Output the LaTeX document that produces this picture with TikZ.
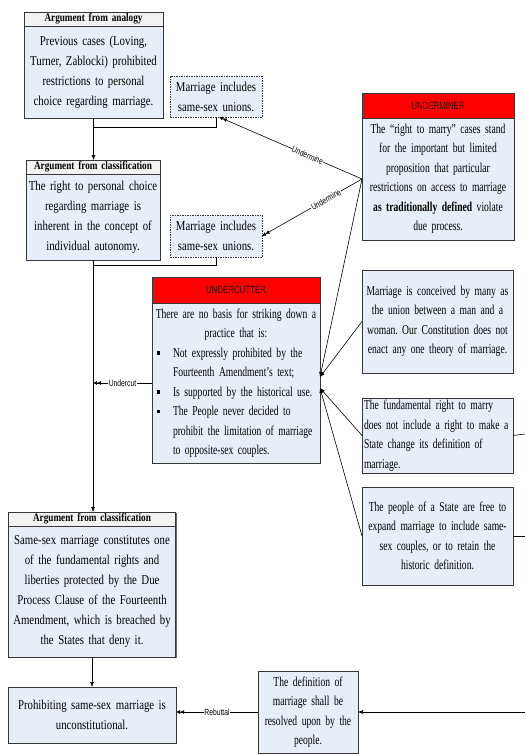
\documentclass[tikz,border=0pt]{standalone}
\usepackage{fontspec}
\setmainfont[FakeStretch=0.8]{Liberation Serif}
\newfontfamily\narrowserif[FakeStretch=0.71]{Liberation Serif}
\setsansfont[FakeStretch=0.75]{Liberation Sans}
\usetikzlibrary{arrows.meta,shadows}
\frenchspacing
\definecolor{boxfill}{RGB}{232,238,248}
\definecolor{hdrfill}{RGB}{242,242,242}
\definecolor{boxline}{RGB}{55,55,55}
\definecolor{redhdr}{RGB}{255,0,0}
\definecolor{redtext}{RGB}{40,0,0}
\newcommand{\bul}{\makebox[19pt][l]{\hspace{3pt}\rule[2.5pt]{3pt}{3.5pt}}}
\newcommand{\ind}{\hspace*{19pt}}
\begin{document}
\begin{tikzpicture}[x=1pt,y=-1pt,line width=0.6pt,
  every node/.style={inner sep=2pt,outer sep=0pt},
  flatbox/.style={draw=boxline,fill=boxfill,font=\fontsize{13.5}{20}\selectfont,align=center,anchor=north},
  box/.style={flatbox,drop shadow={shadow xshift=1.2pt,shadow yshift=-1.2pt,fill=black!60,opacity=1}},
  nbox/.style={box,font=\narrowserif\fontsize{13.5}{19.5}\selectfont},
  hdr/.style={box,fill=hdrfill,inner ysep=0pt,font=\bfseries\fontsize{11.5}{12}\selectfont},
  redhdr/.style={box,fill=redhdr,text=redtext,font=\sffamily\fontsize{10.5}{12}\selectfont},
  claim/.style={flatbox,dash pattern=on 1.5pt off 1pt},
  lbl/.style={fill=white,inner sep=0.5pt,font=\sffamily\fontsize{9}{10}\selectfont},
  tip/.style={-{Latex[length=5pt,width=4pt]}},
  dtip/.style={-{Latex[length=4pt,width=4pt]Latex[length=4pt,width=4pt]}}]
\useasboundingbox (0,0) rectangle (525,755);
% left column
\node[hdr,minimum width=139pt,minimum height=14pt,text width=135pt] (anHdr) at (93.5,12) {Argument from analogy};
\node[box,minimum width=139pt,minimum height=92pt,text width=135pt] (anBody) at (anHdr.south) {Previous cases (Loving,\\ Turner, Zablocki) prohibited\\ restrictions to personal\\ choice regarding marriage.};
\node[claim,minimum width=92pt,minimum height=41pt,text width=88pt] (claimA) at (216,76) {Marriage includes\\ same-sex unions.};
\node[hdr,minimum width=134pt,minimum height=14pt,text width=130pt] (clHdr) at (93,160) {Argument from classification};
\node[box,minimum width=134pt,minimum height=86pt,text width=130pt] (clBody) at (clHdr.south) {The right to personal choice\\ regarding marriage is\\ inherent in the concept of\\ individual autonomy.};
\node[claim,minimum width=92pt,minimum height=42pt,text width=88pt] (claimB) at (216,215) {Marriage includes\\ same-sex unions.};
\node[hdr,minimum width=167pt,minimum height=14pt,text width=163pt] (cl2Hdr) at (92,512) {Argument from classification};
\node[box,minimum width=167pt,minimum height=131pt,text width=163pt] (cl2Body) at (cl2Hdr.south) {Same-sex marriage constitutes one\\ of the fundamental rights and\\ liberties protected by the Due\\ Process Clause of the Fourteenth\\ Amendment, which is breached by\\ the States that deny it.};
\node[box,minimum width=168pt,minimum height=56pt,text width=164pt] (concl) at (92,687) {Prohibiting same-sex marriage is\\ unconstitutional.};
\node[nbox,minimum width=100pt,minimum height=82pt,text width=96pt] (defPeople) at (308,671) {The definition of\\ marriage shall be\\ resolved upon by the\\ people.};
% attackers
\node[redhdr,minimum width=152pt,minimum height=25pt,text width=148pt] (udHdr) at (438,93) {UNDERMINER};
\node[nbox,minimum width=152pt,minimum height=122pt,text width=148pt] (udBody) at (udHdr.south) {The “right to marry” cases stand\\ for the important but limited\\ proposition that particular\\ restrictions on access to marriage\\ \textbf{as traditionally defined} violate\\ due process.};
\node[redhdr,minimum width=168pt,minimum height=26pt,text width=164pt] (ucHdr) at (236,277) {UNDERCUTTER};
\node[nbox,align=left,minimum width=168pt,minimum height=160pt,text width=164pt] (ucBody) at (ucHdr.south) {{\centering There are no basis for striking down a\\ practice that is:\par}
\noindent\bul Not expressly prohibited by the\\
\ind Fourteenth Amendment’s text;\\
\bul Is supported by the historical use.\\
\bul The People never decided to\\
\ind prohibit the limitation of marriage\\
\ind to opposite-sex couples.};
% right column
\node[nbox,minimum width=151pt,minimum height=103pt,text width=147pt] (conceived) at (437.5,270) {Marriage is conceived by many as\\ the union between a man and a\\ woman. Our Constitution does not\\ enact any one theory of marriage.};
\node[nbox,align=left,minimum width=151pt,minimum height=72pt,text width=147pt] (fundRight) at (437.5,398) {The fundamental right to marry\\ does not include a right to make a\\ State change its definition of\\ marriage.};
\node[nbox,minimum width=151pt,minimum height=98pt,text width=147pt] (peopleFree) at (437.5,487) {The people of a State are free to\\ expand marriage to include same-\\ sex couples, or to retain the\\ historic definition.};
\coordinate (jA) at (93.5,127);
\coordinate (jB) at (93,265);
\coordinate (offA) at (525,434);
\coordinate (offB) at (525,536);
\coordinate (offC) at (525,712);
% connectors
\draw[tip] (anBody.south) -- (anBody.south |- clHdr.north);
\draw (claimA.south) |- (jA);
\draw[tip] (clBody.south) -- (clBody.south |- cl2Hdr.north);
\draw (claimB.south) |- (jB);
\draw[dtip] (ucBody.west) -- (ucBody.west -| clBody.south) node[lbl,midway] {Undercut};
\draw[dtip] (udBody.west) -- ([xshift=3pt]claimA.south) node[lbl,sloped,pos=0.38] {Undermine};
\draw[dtip] (udBody.west) -- (claimB.east) node[lbl,sloped,pos=0.36] {Undermine};
\draw[tip] (udBody.west) -- ([yshift=6pt]ucBody.east);
\draw[tip] (conceived.west) -- ([yshift=6pt]ucBody.east);
\draw[tip] (fundRight.west) -- ([yshift=-5pt]ucBody.east);
\draw[tip] (peopleFree.west) -- ([yshift=-5pt]ucBody.east);
\draw (fundRight.east) -- (offA);
\draw (peopleFree.east) -- (offB);
\draw[tip] (offC) -- (defPeople.east);
\draw[dtip] (defPeople.west) -- (defPeople.west -| concl.east) node[lbl,midway] {Rebuttal};
\draw[tip] (cl2Body.south) -- (concl.north);
\end{tikzpicture}
\end{document}
